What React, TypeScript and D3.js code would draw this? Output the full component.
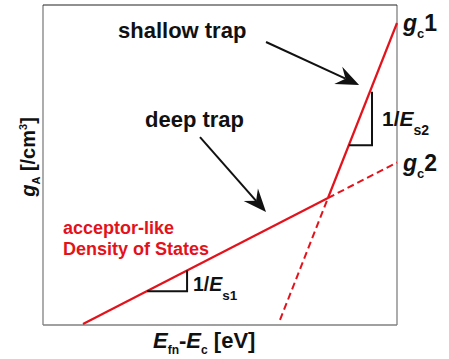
import React from "react";
import * as d3 from "d3";

// Energy axis (E_fn - E_c, eV) and log10 density of states
const xDomain = [-1, 0];
const yDomain = [14, 21];

// deep-trap (acceptor-like) tail, solid part and its dashed extension
const deepTrap = [
  { e: -0.887, lg: 14.02 },
  { e: -0.195, lg: 16.778 },
];
const deepTrapExt = [
  { e: -0.195, lg: 16.778 },
  { e: 0, lg: 17.555 },
];
// shallow-trap tail, solid part and its dashed extension
const shallowTrap = [
  { e: -0.195, lg: 16.778 },
  { e: 0, lg: 20.606 },
];
const shallowTrapExt = [
  { e: -0.3305, lg: 14.11 },
  { e: -0.195, lg: 16.778 },
];
// slope triangles
const es1Triangle = [
  { e: -0.706, lg: 14.74 },
  { e: -0.593, lg: 14.74 },
  { e: -0.593, lg: 15.19 },
];
const es2Triangle = [
  { e: -0.136, lg: 17.93 },
  { e: -0.0706, lg: 17.93 },
  { e: -0.0706, lg: 19.1 },
];
// annotation arrows [start, tip]
const shallowArrow = [
  { e: -0.37, lg: 20.19 },
  { e: -0.107, lg: 19.25 },
];
const deepArrow = [
  { e: -0.5565, lg: 18.11 },
  { e: -0.37, lg: 16.47 },
];

const RED = "#e3121b";
const FONT = "'Liberation Sans', Arial, Helvetica, sans-serif";

export default function App() {
  const left = 43, right = 397, top = 5, bottom = 325;
  const x = d3.scaleLinear().domain(xDomain).range([left, right]);
  const y = d3.scaleLinear().domain(yDomain).range([bottom, top]);
  const line = d3
    .line<{ e: number; lg: number }>()
    .x((d) => x(d.e))
    .y((d) => y(d.lg));

  const arrow = (pts: { e: number; lg: number }[]) => {
    const x0 = x(pts[0].e), y0 = y(pts[0].lg);
    const x1 = x(pts[1].e), y1 = y(pts[1].lg);
    const dx = x1 - x0, dy = y1 - y0;
    const len = Math.hypot(dx, dy);
    const ux = dx / len, uy = dy / len;
    const px = -uy, py = ux;
    const L = 23, W = 9.5, N = 15;
    const bx = x1 - ux * L, by = y1 - uy * L;
    const nx = x1 - ux * N, ny = y1 - uy * N;
    const head = `M${x1},${y1}L${bx + px * W},${by + py * W}L${nx},${ny}L${bx - px * W},${by - py * W}Z`;
    return (
      <g>
        <line x1={x0} y1={y0} x2={nx} y2={ny} stroke="#111" strokeWidth={2} />
        <path d={head} fill="#111" />
      </g>
    );
  };

  return (
    <svg
      width={449}
      height={359}
      style={{ position: "absolute", left: 0, top: 0, background: "#fff" }}
      fontFamily={FONT}
      fontWeight="bold"
    >
      {/* frame */}
      <line x1={left} y1={bottom} x2={right} y2={bottom} stroke="#808080" strokeWidth={1.3} />
      <line x1={left} y1={top} x2={left} y2={bottom} stroke="#808080" strokeWidth={1.3} />
      <line x1={right} y1={top} x2={right} y2={bottom} stroke="#808080" strokeWidth={1.3} />
      <line x1={left} y1={top} x2={right} y2={top} stroke="#222" strokeWidth={1.2} />

      {/* DOS lines */}
      <path d={line(deepTrapExt) || ""} fill="none" stroke={RED} strokeWidth={2} strokeDasharray="7,4" />
      <path d={line(shallowTrapExt) || ""} fill="none" stroke={RED} strokeWidth={2} strokeDasharray="7,4" />
      <path d={line(deepTrap) || ""} fill="none" stroke={RED} strokeWidth={2.2} />
      <path d={line(shallowTrap) || ""} fill="none" stroke={RED} strokeWidth={2.2} />

      {/* slope triangles */}
      <path d={line(es1Triangle) || ""} fill="none" stroke="#111" strokeWidth={2} />
      <path d={line(es2Triangle) || ""} fill="none" stroke="#111" strokeWidth={2} />

      {/* arrows */}
      {arrow(shallowArrow)}
      {arrow(deepArrow)}

      {/* labels */}
      <text x={118} y={38} fontSize={22} fill="#111">shallow trap</text>
      <text x={145} y={127} fontSize={22} fill="#111">deep trap</text>
      <text x={63} y={234} fontSize={18} fill={RED}>acceptor-like</text>
      <text x={63} y={255} fontSize={18} fill={RED}>Density of States</text>

      <text x={403} y={31} fontSize={23} fill="#111">
        <tspan fontStyle="italic">g</tspan>
        <tspan fontSize={13} dy={7}>c</tspan>
        <tspan dy={-7}>1</tspan>
      </text>
      <text x={403} y={171} fontSize={23} fill="#111">
        <tspan fontStyle="italic">g</tspan>
        <tspan fontSize={13} dy={7}>c</tspan>
        <tspan dy={-7}>2</tspan>
      </text>
      <text x={382} y={126} fontSize={21} fill="#111">
        <tspan>1/</tspan>
        <tspan fontStyle="italic">E</tspan>
        <tspan fontSize={14} dy={9}>s2</tspan>
      </text>
      <text x={193} y={291} fontSize={19.5} fill="#111">
        <tspan>1/</tspan>
        <tspan fontStyle="italic">E</tspan>
        <tspan fontSize={13.5} dy={9}>s1</tspan>
      </text>

      {/* axis titles */}
      <text x={153} y={348} fontSize={22} fill="#111">
        <tspan fontStyle="italic">E</tspan>
        <tspan fontSize={12} dy={6}>fn</tspan>
        <tspan dy={-6}>-</tspan>
        <tspan fontStyle="italic">E</tspan>
        <tspan fontSize={12} dy={6}>c</tspan>
        <tspan dy={-6}> [eV]</tspan>
      </text>
      <text transform="translate(35,157) rotate(-90)" textAnchor="middle" fontSize={20} fill="#111">
        <tspan fontStyle="italic">g</tspan>
        <tspan fontSize={11} dy={5}>A</tspan>
        <tspan dy={-5}> [/cm</tspan>
        <tspan fontSize={11} dy={-8}>3</tspan>
        <tspan dy={8}>]</tspan>
      </text>
    </svg>
  );
}
